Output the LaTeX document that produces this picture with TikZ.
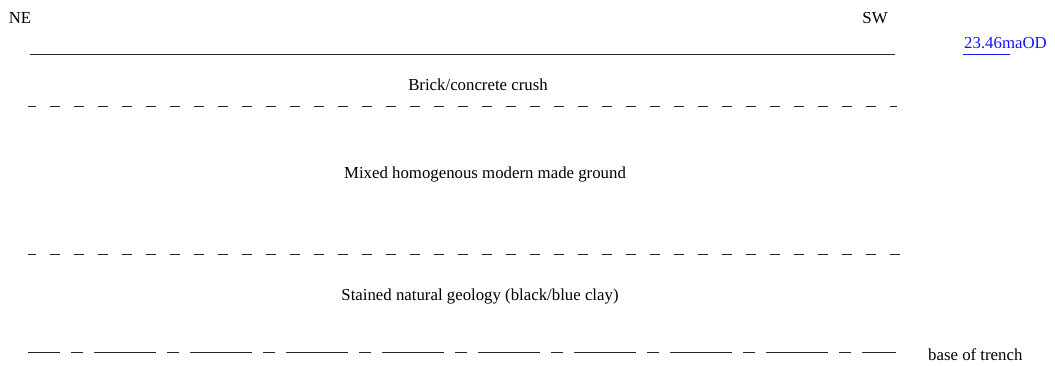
\documentclass[tikz,border=0pt]{standalone}
\usepackage{fontspec}
\setmainfont{Liberation Serif}
\definecolor{odblue}{RGB}{20,20,255}
\begin{document}
\begin{tikzpicture}[x=1pt,y=-1pt,
  lbl/.style={inner sep=0pt,font=\fontsize{16.8}{20}\selectfont},
  layer/.style={line width=1pt,black!85},
  dashline/.style={layer,dash pattern=on 10pt off 14pt,dash phase=2pt},
  baseline/.style={layer,dash pattern=on 62pt off 11pt on 12pt off 11pt,dash phase=30pt}]
\useasboundingbox (0,0) rectangle (1055,365);
\node[lbl] (ne) at (20,18) {NE};
\node[lbl] (sw) at (875,18) {SW};
\node[lbl,text=odblue,anchor=west] (od) at (964,43) {23.46maOD};
\draw[odblue,line width=1pt] (963,54) -- (1010,54);
\draw[layer] (30,54) -- (895,54);
\node[lbl] (brick) at (478,84.5) {Brick/concrete crush};
\draw[dashline] (28,106) -- (897,106);
\node[lbl] (mixed) at (485,174.5) {Mixed homogenous modern made ground};
\draw[dashline] (28,254) -- (900,254);
\node[lbl] (stained) at (480,296) {Stained natural geology (black/blue clay)};
\draw[baseline] (28,352) -- (896,352);
\node[lbl,anchor=west] (base) at (928,355) {base of trench};
\end{tikzpicture}
\end{document}
